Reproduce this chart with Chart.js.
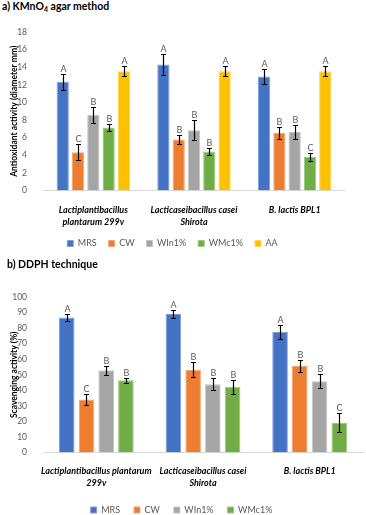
<!DOCTYPE html>
<html>
<head>
<meta charset="utf-8">
<script src="https://cdn.jsdelivr.net/npm/chart.js@4.4.0/dist/chart.umd.min.js"></script>
<style>
  body { margin: 0; width: 366px; height: 515px; background: #fff; position: relative; overflow: hidden; font-family: Lato, sans-serif; }
  .title { position: absolute; font-weight: bold; font-size: 10.5px; color: #000; white-space: nowrap; }
  .title sub { font-size: 7px; vertical-align: -2px; }
  .box { position: absolute; left: 0; width: 366px; }
</style>
</head>
<body>
<div class="title" style="left:2px; top:0px;">a) KMnO<sub>4</sub> agar method</div>
<div class="box" style="top:0; height:267px;"><canvas id="chartA"></canvas></div>
<div class="title" style="left:7px; top:258px;">b) DDPH technique</div>
<div class="box" style="top:270px; height:257px;"><canvas id="chartB"></canvas></div>
<script>
const seriesNames = ['MRS', 'CW', 'WIn1%', 'WMc1%', 'AA'];
const seriesColors = ['#4472C4', '#ED7D31', '#A5A5A5', '#70AD47', '#FFC000'];
const seriesEdges = ['#7F9ED8', '#F3A672', '#C4C4C4', '#9BC97F', '#FFD54D'];

const strainsA = [['Lactiplantibacillus', 'plantarum 299v'], ['Lacticaseibacillus casei', 'Shirota'], 'B. lactis BPL1'];
const strainsB = [['Lactiplantibacillus plantarum', '299v'], ['Lacticaseibacillus casei', 'Shirota'], 'B. lactis BPL1'];

// a) KMnO4 agar method - diameter (mm)
const kmnoMRS = [12.35, 14.3, 12.95];
const kmnoCW = [4.35, 5.8, 6.55];
const kmnoWIn = [8.6, 6.85, 6.65];
const kmnoWMc = [7.15, 4.45, 3.85];
const kmnoAA = [13.55, 13.55, 13.55];
const kmnoErrMRS = [0.88, 1.15, 0.9];
const kmnoErrCW = [0.9, 0.55, 0.65];
const kmnoErrWIn = [0.9, 1.15, 0.8];
const kmnoErrWMc = [0.38, 0.4, 0.45];
const kmnoErrAA = [0.6, 0.6, 0.6];
const kmnoLetters = [['A', 'A', 'A'], ['C', 'B', 'B'], ['B', 'B', 'B'], ['B', 'B', 'C'], ['A', 'A', 'A']];
const kmnoTicks = [0, 18, 2];

// b) DPPH technique - scavenging activity (%)
const dpphMRS = [86.8, 89.1, 77.6];
const dpphCW = [34.1, 53.3, 55.6];
const dpphWIn = [52.9, 44.0, 45.8];
const dpphWMc = [46.5, 42.3, 19.1];
const dpphErrMRS = [2.3, 2.5, 4.5];
const dpphErrCW = [3.5, 4.7, 3.7];
const dpphErrWIn = [3.0, 3.7, 4.4];
const dpphErrWMc = [1.5, 4.5, 6.1];
const dpphLetters = [['A', 'A', 'A'], ['C', 'B', 'B'], ['B', 'B', 'B'], ['B', 'B', 'C']];
const dpphTicks = [0, 100, 10];

// error bars + significance letters on top of each bar
const errorBarPlugin = {
  id: 'errorBars',
  afterDatasetsDraw(chart) {
    const ctx = chart.ctx;
    const yScale = chart.scales.y;
    chart.data.datasets.forEach((ds, i) => {
      const meta = chart.getDatasetMeta(i);
      meta.data.forEach((bar, j) => {
        const v = ds.data[j], e = ds.errors[j];
        const top = Math.round(yScale.getPixelForValue(v + e)) + 0.5;
        const bot = Math.round(yScale.getPixelForValue(v - e)) + 0.5;
        const x = Math.round(bar.x) + 0.5;
        ctx.save();
        ctx.strokeStyle = '#000';
        ctx.lineWidth = 1.2;
        ctx.beginPath();
        ctx.moveTo(x, top); ctx.lineTo(x, bot);
        ctx.moveTo(x - 2.5, top); ctx.lineTo(x + 2.5, top);
        ctx.moveTo(x - 2.5, bot); ctx.lineTo(x + 2.5, bot);
        ctx.stroke();
        ctx.fillStyle = '#595959';
        ctx.font = '9px Lato';
        ctx.textAlign = 'center';
        ctx.textBaseline = 'alphabetic';
        ctx.fillText(ds.letters[j], x, top - 3);
        ctx.restore();
      });
    });
  }
};

// pull the legend a bit closer to the axis labels
const legendShift = {
  id: 'legendShift',
  afterLayout(chart, args, opts) {
    const lg = chart.legend;
    if (lg && opts.shift) {
      lg.top -= opts.shift;
      lg.bottom -= opts.shift;
    }
  }
};

function makeDatasets(values, errors, letters, catPct, barPct) {
  return values.map((vals, i) => ({
    label: seriesNames[i],
    data: vals,
    errors: errors[i],
    letters: letters[i],
    backgroundColor: seriesColors[i],
    borderColor: seriesEdges[i],
    borderWidth: 1,
    categoryPercentage: catPct,
    barPercentage: barPct,
  }));
}

function makeOptions(ticks, yTitle, pad, xPad, legendPad, shift) {
  return {
    responsive: true,
    maintainAspectRatio: false,
    animation: false,
    layout: { padding: pad },
    plugins: {
      legend: {
        position: 'bottom',
        labels: { boxWidth: 6, boxHeight: 6, padding: legendPad, color: '#595959', font: { size: 9, family: 'Lato' } },
      },
      legendShift: { shift: shift },
      tooltip: { enabled: false },
    },
    scales: {
      x: {
        grid: { display: false },
        border: { color: '#d9d9d9' },
        ticks: { color: '#000', maxRotation: 0, autoSkip: false, padding: xPad,
                 font: { size: 9, family: 'Lato', weight: 'bold', style: 'italic', lineHeight: 1.3 } },
      },
      y: {
        min: ticks[0],
        max: ticks[1],
        grid: { display: false },
        border: { display: false },
        ticks: { stepSize: ticks[2], color: '#595959', padding: 8, font: { size: 8.5, family: 'Lato' } },
        title: { display: true, text: yTitle, color: '#000', padding: { top: 9, bottom: 0 },
                 font: { size: 8.5, family: 'Lato', weight: 'bold' } },
        afterFit: (s) => { s.width = 43; },
      },
    },
  };
}

new Chart(document.getElementById('chartA'), {
  type: 'bar',
  data: {
    labels: strainsA,
    datasets: makeDatasets(
      [kmnoMRS, kmnoCW, kmnoWIn, kmnoWMc, kmnoAA],
      [kmnoErrMRS, kmnoErrCW, kmnoErrWIn, kmnoErrWMc, kmnoErrAA],
      kmnoLetters, 0.76, 0.8),
  },
  options: makeOptions(kmnoTicks, 'Antioxidant activity (diameter mm)', { top: 32, right: 21, left: 0, bottom: 2 }, 6, 12, 7),
  plugins: [errorBarPlugin, legendShift],
});

new Chart(document.getElementById('chartB'), {
  type: 'bar',
  data: {
    labels: strainsB,
    datasets: makeDatasets(
      [dpphMRS, dpphCW, dpphWIn, dpphWMc],
      [dpphErrMRS, dpphErrCW, dpphErrWIn, dpphErrWMc],
      dpphLetters, 0.74, 0.79),
  },
  options: makeOptions(dpphTicks, 'Scavenging activity (%)', { top: 27, right: 3, left: 0, bottom: 0 }, 5, 14, 2.5),
  plugins: [errorBarPlugin, legendShift],
});
</script>
</body>
</html>
